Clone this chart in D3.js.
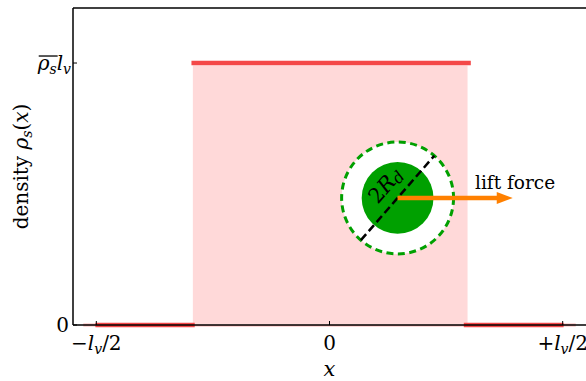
<!DOCTYPE html>
<html><head><meta charset="utf-8">
<script src="https://cdn.jsdelivr.net/npm/d3@7"></script>
<style>body{margin:0;background:#fff}svg{display:block}text{font-family:"DejaVu Serif",serif;fill:#000}</style>
</head><body><svg id="c" width="586" height="381"></svg>
<script>
// ---- data ----
const xTicks = [-0.5, 0, 0.5];
const xTickLabels = [["−", "l", "v", "/2"], ["0"], ["+", "l", "v", "/2"]];
const yTicks = [0, 1];
const segStart = [-0.502, -0.296, 0.288];
const segEnd = [-0.289, 0.303, 0.502];
const segValue = [0, 1, 0];
const fillStart = [-0.293];
const fillEnd = [0.296];
const particleX = [0.146];
const particleY = [0.485];
const innerR = [0.077];
const outerR = [0.12];
const diameterAngle = [49];
const liftEndX = [0.393];
const liftLabel = ["lift force"];

const svg = d3.select("#c");
const x = d3.scaleLinear().domain([-0.55, 0.55]).range([73, 586]);
const y = d3.scaleLinear().domain([0, 1.21]).range([325, 8]);
const red = "#f44848", pink = "#ffd9d9", green = "#00a000", orange = "#ff8000";

// faint baseline
svg.append("line").attr("x1", x(-0.528)).attr("x2", x(0.528)).attr("y1", y(0)).attr("y2", y(0))
  .attr("stroke", "#f9b4b4").attr("stroke-width", 3);

// pink fill
svg.selectAll("rect.fill").data(fillStart).join("rect").attr("class", "fill")
  .attr("x", (d, i) => x(d)).attr("width", (d, i) => x(fillEnd[i]) - x(d))
  .attr("y", y(1) + 2.5).attr("height", y(0) - y(1) - 2.5).attr("fill", pink);

// red segments
svg.selectAll("line.seg").data(segValue).join("line").attr("class", "seg")
  .attr("x1", (d, i) => x(segStart[i])).attr("x2", (d, i) => x(segEnd[i]))
  .attr("y1", d => y(d)).attr("y2", d => y(d))
  .attr("stroke", red).attr("stroke-width", 4.5);

// axes frame
const g = svg.append("g");
g.append("line").attr("x1", 73).attr("x2", 73).attr("y1", y.range()[1]).attr("y2", y.range()[0]).attr("stroke", "#000").attr("stroke-width", 1.5);
g.append("line").attr("x1", 73).attr("x2", 586).attr("y1", y.range()[1]).attr("y2", y.range()[1]).attr("stroke", "#000").attr("stroke-width", 1.5);
g.append("line").attr("x1", 73).attr("x2", 586).attr("y1", y.range()[0]).attr("y2", y.range()[0]).attr("stroke", "#000").attr("stroke-width", 1.5);

// x ticks
xTicks.forEach((t, i) => {
  g.append("line").attr("x1", x(t)).attr("x2", x(t)).attr("y1", y(0)).attr("y2", y(0) - 4).attr("stroke", "#000").attr("stroke-width", 1);
  const lab = xTickLabels[i];
  const tx = g.append("text").attr("x", x(t)).attr("y", 350).attr("text-anchor", "middle").attr("font-size", 20);
  if (lab.length === 1) tx.text(lab[0]);
  else {
    tx.append("tspan").text(lab[0]);
    tx.append("tspan").attr("font-style", "italic").text(lab[1]);
    tx.append("tspan").attr("font-style", "italic").attr("font-size", 14).attr("dy", 4).text(lab[2]);
    tx.append("tspan").attr("dy", -4).text(lab[3]);
  }
});
// y ticks
yTicks.forEach(t => {
  g.append("line").attr("x1", 73).attr("x2", 77).attr("y1", y(t)).attr("y2", y(t)).attr("stroke", "#000").attr("stroke-width", 1);
});
g.append("text").attr("x", 69).attr("y", y(0) + 7).attr("text-anchor", "end").attr("font-size", 20).text("0");
const yl = g.append("text").attr("x", 71).attr("y", y(1) + 7).attr("text-anchor", "end").attr("font-size", 20);
yl.append("tspan").attr("font-style", "italic").text("ρ");
yl.append("tspan").attr("font-style", "italic").attr("font-size", 14).attr("dy", 4).text("s");
yl.append("tspan").attr("font-style", "italic").attr("dy", -4).text("l");
yl.append("tspan").attr("font-style", "italic").attr("font-size", 14).attr("dy", 4).text("v");
{
  const n = yl.node();
  const e0 = n.getExtentOfChar(0), e1 = n.getExtentOfChar(1);
  g.append("line").attr("x1", e0.x + 1).attr("x2", e1.x + e1.width + 1)
    .attr("y1", y(1) - 7).attr("y2", y(1) - 7).attr("stroke", "#000").attr("stroke-width", 1.3);
}

// axis labels
g.append("text").attr("x", x(0)).attr("y", 376).attr("text-anchor", "middle").attr("font-size", 21).attr("font-style", "italic").text("x");
const ylab = g.append("text").attr("transform", `translate(28,${(y(0) + y.range()[1]) / 2}) rotate(-90)`).attr("text-anchor", "middle").attr("font-size", 20);
ylab.append("tspan").text("density ");
ylab.append("tspan").attr("font-style", "italic").text("ρ");
ylab.append("tspan").attr("font-style", "italic").attr("font-size", 14).attr("dy", 4).text("s");
ylab.append("tspan").attr("dy", -4).text("(");
ylab.append("tspan").attr("font-style", "italic").text("x");
ylab.append("tspan").text(")");

// particle
const px = x(particleX[0]), py = y(particleY[0]);
const pxScale = x(1) - x(0);
svg.append("circle").attr("cx", px).attr("cy", py).attr("r", outerR[0] * pxScale).attr("fill", "#fff")
  .attr("stroke", green).attr("stroke-width", 3).attr("stroke-dasharray", "7,4.5");
svg.append("circle").attr("cx", px).attr("cy", py).attr("r", innerR[0] * pxScale).attr("fill", green);
const a = diameterAngle[0] * Math.PI / 180, R = outerR[0] * pxScale;
svg.append("line").attr("x1", px - R * Math.cos(a)).attr("y1", py + R * Math.sin(a))
  .attr("x2", px + R * Math.cos(a)).attr("y2", py - R * Math.sin(a))
  .attr("stroke", "#000").attr("stroke-width", 2.5).attr("stroke-dasharray", "8,4");
const rt = svg.append("text").attr("transform", `translate(${px - 7},${py - 8}) rotate(${-diameterAngle[0]})`)
  .attr("text-anchor", "middle").attr("font-size", 21);
rt.append("tspan").text("2");
rt.append("tspan").attr("font-style", "italic").text("R");
rt.append("tspan").attr("font-style", "italic").attr("font-size", 16).attr("dy", 3).text("d");

// lift arrow
const ax2 = x(liftEndX[0]);
svg.append("line").attr("x1", px).attr("x2", ax2 - 12).attr("y1", py).attr("y2", py).attr("stroke", orange).attr("stroke-width", 4.5);
svg.append("path").attr("d", `M${ax2},${py} L${ax2 - 16},${py - 6} L${ax2 - 16},${py + 6} Z`).attr("fill", orange);
svg.append("text").attr("x", 475).attr("y", 189).attr("font-size", 18.5).text(liftLabel[0]);
</script></body></html>
